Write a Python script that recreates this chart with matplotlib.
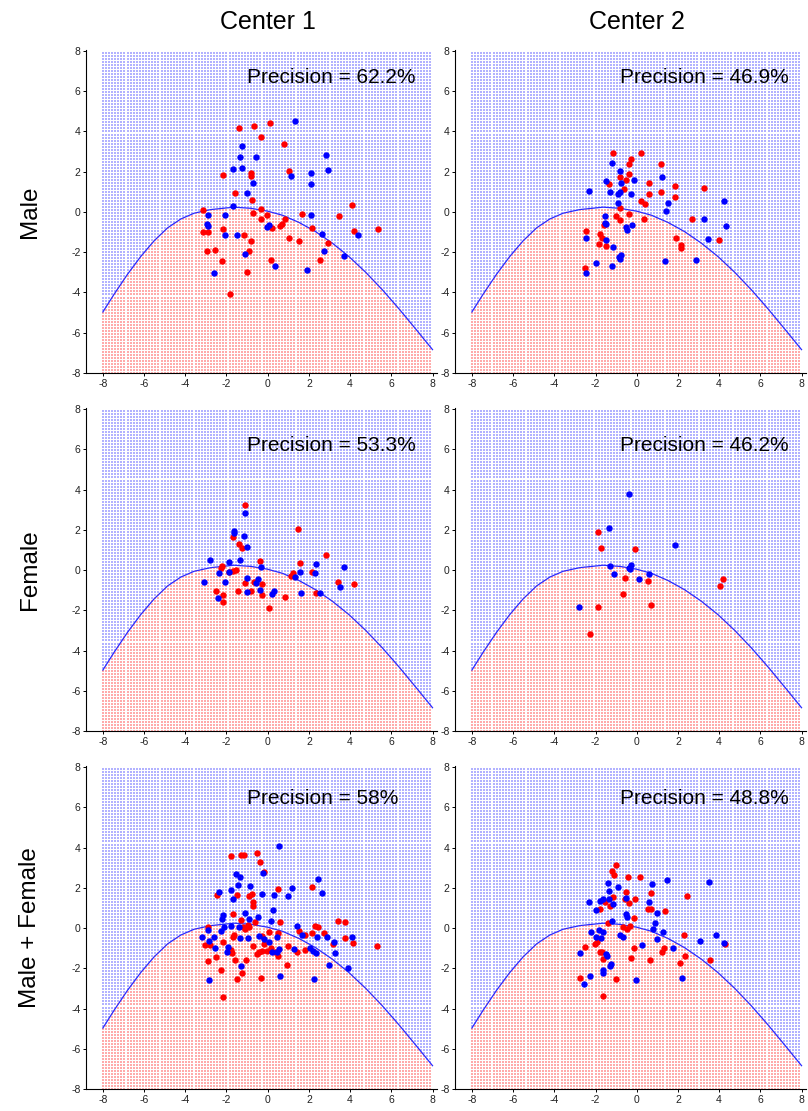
import numpy as np
import matplotlib
matplotlib.use('Agg')
import matplotlib.pyplot as plt

plt.rcParams['font.family'] = ['Liberation Sans', 'DejaVu Sans']
plt.rcParams['axes.unicode_minus'] = False

centers = ['Center 1', 'Center 2']
groups = ['Male', 'Female', 'Male + Female']
precision = [['62.2%', '46.9%'],
             ['53.3%', '46.2%'],
             ['58%', '48.8%']]

# decision boundary
boundary_x = [-8.0, -7.45, -6.8, -6.16, -5.51, -4.86, -4.22, -3.57, -2.76, -1.63,
              -0.8, 0.0, 0.71, 1.52, 2.33, 3.14, 3.95, 4.75, 5.56, 6.37, 7.18, 8.0]
boundary_y = [-4.97, -4.08, -3.09, -2.21, -1.43, -0.79, -0.35, -0.06, 0.12, 0.24,
              0.18, 0.04, -0.16, -0.52, -0.98, -1.55, -2.22, -2.99, -3.86, -4.81, -5.81, -6.84]

# ---- Center 1, Male
c1_male_red = [(-3.12, 0.08), (-3.12, -0.99), (-2.91, -0.99), (-2.96, -1.95), (-2.55, -1.90),
               (-2.18, 1.86), (-2.15, -0.87), (-2.23, -2.42), (-1.83, -4.07), (-1.58, 0.94),
               (-1.37, 4.16), (-1.13, -1.15), (-0.99, -3.0), (-0.89, -1.95), (-0.82, -1.45),
               (-0.82, 1.93), (-0.82, 1.77), (-0.76, 0.58), (-0.69, -0.05), (-0.66, 4.29),
               (-0.31, 3.71), (-0.32, 0.16), (-0.31, -0.36), (-0.02, -0.13), (0.10, 4.40),
               (0.18, -2.39), (0.23, -0.79), (0.60, -0.69), (0.68, -0.61), (0.81, 3.38),
               (0.84, -0.36), (1.03, 2.06), (1.03, -1.29), (1.52, -1.44), (1.68, -0.08),
               (2.17, -0.79), (2.54, -2.39), (2.91, -1.53), (3.47, -0.2), (4.10, 0.33),
               (4.19, -0.94), (5.37, -0.87)]
c1_male_blue = [(-2.88, -0.13), (-2.96, -0.59), (-2.88, -0.71), (-2.60, -3.02), (-2.07, -0.13),
                (-2.07, -1.15), (-1.66, 2.14), (-1.70, 0.28), (-1.50, -1.15), (-1.36, 2.72),
                (-1.26, 3.28), (-1.24, 2.18), (-1.08, -2.09), (-1.02, 0.94), (-0.73, 1.45),
                (-0.58, 2.72), (-0.02, -0.74), (0.05, -0.63), (0.36, -2.66), (1.13, 1.77),
                (1.34, 4.50), (1.92, -2.89), (2.08, 1.93), (2.08, 1.40), (2.08, -0.16),
                (2.63, -1.07), (2.73, -1.95), (2.81, 2.85), (2.91, 2.11), (3.70, -2.19),
                (4.36, -1.15)]

# ---- Center 2, Male
c2_male_red = [(-2.53, -2.80), (-2.45, -0.94), (-1.83, -1.57), (-1.77, -1.11), (-1.67, -1.27),
               (-1.60, -0.66), (-1.47, -1.68), (-1.34, 1.40), (-1.15, 2.92), (-0.99, -0.20),
               (-0.83, 1.73), (-0.83, 0.20), (-0.79, -0.41), (-0.62, 1.12), (-0.50, 1.57),
               (-0.37, 2.36), (-0.37, 1.90), (-0.37, -0.08), (-0.26, 2.64), (0.23, 2.92),
               (0.19, 0.53), (0.37, -0.33), (0.42, 0.41), (0.58, 1.45), (0.58, 0.91),
               (1.17, 2.36), (1.17, 0.99), (1.85, 0.74), (1.88, 1.29), (1.89, -1.29),
               (2.17, -1.65), (2.17, -1.78), (2.66, -0.36), (3.26, 1.20), (3.97, -1.37)]
c2_male_blue = [(-2.48, -3.05), (-2.45, -1.29), (-2.32, 1.04), (-1.96, -2.56), (-1.55, -0.21),
                (-1.55, -0.53), (-1.51, -1.40), (-1.47, 1.52), (-1.51, -0.58), (-1.31, 0.99),
                (-1.18, 2.44), (-1.18, -2.67), (-1.15, -1.76), (-0.91, 0.46), (-0.91, 0.91),
                (-0.83, 0.99), (-0.86, -2.23), (-0.79, -2.36), (-0.74, -2.14), (-0.79, 2.06),
                (-0.76, 1.45), (-0.50, -0.74), (-0.45, -0.91), (-0.26, 0.91), (-0.23, -0.66),
                (-0.11, 1.57), (1.23, 1.73), (1.36, -2.42), (1.44, 0.05), (1.52, 0.46),
                (2.90, -2.39), (3.27, -0.33), (3.48, -1.32), (4.24, 0.54), (4.32, -0.69)]

# ---- Center 1, Female
c1_female_red = [(-2.49, -1.04), (-2.29, 0.08), (-2.21, 0.20), (-2.18, -1.24), (-2.16, -1.61),
                 (-1.89, -0.08), (-1.68, 1.66), (-1.68, -0.03), (-1.56, 0.0), (-1.43, -1.04),
                 (-1.40, 1.28), (-1.24, 1.11), (-1.11, 3.23), (-1.11, -0.66), (-0.80, -1.04),
                 (-0.67, -0.61), (-0.35, 0.46), (-0.30, -1.24), (-0.27, -0.71), (0.04, -1.87),
                 (0.84, -1.33), (1.14, -0.30), (1.24, -0.13), (1.47, 2.04), (1.56, 0.36),
                 (2.16, -0.12), (2.33, -1.13), (2.85, 0.75), (3.41, -0.58), (4.19, -0.71)]
c1_female_blue = [(-3.10, -0.58), (-2.81, 0.50), (-2.38, -0.17), (-2.39, -1.37), (-2.05, -0.61),
                  (-1.89, 0.41), (-1.89, -0.12), (-1.65, 1.94), (-1.65, 1.82), (-1.32, 0.51),
                  (-1.16, 1.67), (-1.11, 2.82), (-1.00, 1.16), (-1.00, -0.41), (-1.00, -1.11),
                  (-0.59, -0.66), (-0.48, -0.46), (-0.35, -0.99), (-0.32, 0.17), (0.22, -1.21),
                  (0.33, -1.03), (1.34, -0.36), (1.56, -0.08), (1.63, -1.16), (2.28, -0.17),
                  (2.33, 0.28), (2.52, -1.16), (3.51, -0.83), (3.71, 0.15)]

# ---- Center 2, Female
c2_female_red = [(-2.28, -3.20), (-1.89, 1.90), (-1.89, -1.82), (-1.71, 1.08), (-0.66, -1.21),
                 (-0.57, -0.38), (-0.06, 1.03), (0.56, -0.53), (0.67, -1.74), (4.04, -0.80),
                 (4.19, -0.45)]
c2_female_blue = [(-2.81, -1.84), (-1.35, 2.07), (-1.31, 0.20), (-1.11, -0.20), (-0.36, 3.78),
                  (-0.35, 0.08), (-0.30, 0.25), (-0.33, 0.05), (0.12, -0.46), (0.62, -0.18),
                  (1.88, 1.24)]

# ---- Center 1, Male + Female
c1_all_red = [(-2.91, 0.03), (-3.04, -0.84), (-2.88, -1.65), (-2.80, -0.82), (-2.52, -1.45),
              (-2.47, 1.63), (-2.26, -2.11), (-2.18, -0.68), (-2.15, -3.43), (-1.79, 3.58),
              (-1.79, -1.07), (-1.75, -1.24), (-1.70, 0.69), (-1.70, -0.43), (-1.63, -0.33),
              (-1.58, -1.57), (-1.50, -2.55), (-1.49, 1.63), (-1.31, 3.62), (-1.28, 0.41),
              (-1.26, -2.22), (-1.18, 0.03), (-1.13, 3.62), (-1.10, -0.05), (-1.07, -1.57),
              (-0.94, 0.16), (-0.91, 0.03), (-0.89, 1.60), (-0.78, 1.71), (-0.73, 1.10),
              (-0.69, 1.27), (-0.69, -0.91), (-0.61, 0.28), (-0.50, 3.74), (-0.53, -1.29),
              (-0.42, -1.20), (-0.37, 3.28), (-0.32, -2.49), (-0.29, -1.12), (-0.26, -0.38),
              (-0.18, 2.78), (-0.18, -0.79), (-0.05, -1.12), (0.06, -0.18), (0.15, -0.99),
              (0.36, -1.17), (0.52, 1.96), (0.52, -0.25), (0.52, -1.37), (0.60, 0.28),
              (0.97, -0.91), (0.92, -1.86), (1.44, -1.17), (1.54, -0.13), (1.81, -0.35),
              (1.81, -1.07), (2.17, 2.06), (2.17, -0.25), (2.29, 0.08), (2.42, 0.07),
              (2.75, -0.26), (3.18, -0.79), (3.39, 0.36), (3.75, 0.28), (3.75, -0.49),
              (4.15, -0.76), (5.32, -0.91)]
c1_all_blue = [(-3.20, -0.43), (-2.88, -0.08), (-2.84, -0.63), (-2.83, -2.60), (-2.63, -0.43),
               (-2.55, -1.01), (-2.34, 1.80), (-2.28, -0.13), (-2.20, 0.44), (-2.18, 0.64),
               (-2.10, 0.03), (-1.99, -1.20), (-1.91, -0.92), (-1.79, 1.89), (-1.79, 0.08),
               (-1.70, 1.43), (-1.55, 2.67), (-1.42, 2.13), (-1.34, 2.55), (-1.34, -0.51),
               (-1.29, -1.89), (-1.37, 0.03), (-1.08, 0.74), (-0.97, -0.51), (-0.91, 0.44),
               (-0.86, 2.09), (-0.45, 0.56), (-0.40, -0.38), (-0.29, 1.71), (-0.24, 2.75),
               (-0.18, -0.54), (0.06, -0.71), (0.15, 0.36), (0.19, -1.20), (0.27, 0.91),
               (0.32, 1.63), (0.44, -0.46), (0.47, -1.20), (0.53, -1.04), (0.55, 4.10),
               (0.60, -2.39), (1.00, 1.57), (1.20, 1.98), (1.29, -1.04), (1.44, 0.08),
               (1.65, -0.35), (2.05, -1.01), (2.18, -1.12), (2.26, -2.55), (2.34, -1.24),
               (2.41, -0.46), (2.46, 2.42), (2.65, 1.76), (2.86, -0.46), (2.99, -1.83),
               (3.22, -0.68), (3.26, -1.24), (3.91, -1.98), (4.07, -0.43)]

# ---- Center 2, Male + Female
c2_all_red = [(-2.77, -2.49), (-2.53, -0.96), (-2.04, -0.79), (-1.91, -0.71), (-1.80, 0.97),
              (-1.80, -1.20), (-1.68, -1.20), (-1.64, -1.53), (-1.64, -3.38), (-1.55, 1.27),
              (-1.39, 0.23), (-1.31, 1.07), (-1.18, 2.83), (-1.12, 2.62), (-1.15, 1.52),
              (-0.99, 3.11), (-0.99, -2.55), (-0.66, 0.03), (-0.58, 1.43), (-0.50, 1.81),
              (-0.47, -0.05), (-0.40, 2.55), (-0.39, 1.22), (-0.34, 0.08), (-0.26, -1.50),
              (-0.15, -1.01), (-0.13, 0.48), (-0.06, 1.43), (0.15, 2.55), (0.55, 0.94),
              (0.63, -1.61), (0.68, 1.73), (0.68, 0.94), (1.25, -1.20), (1.33, -1.01),
              (1.39, 0.86), (2.12, -1.73), (2.28, -0.35), (2.33, -1.40), (2.45, 1.60),
              (3.55, -1.57), (4.28, -0.79)]
c2_all_blue = [(-2.74, -1.24), (-2.56, -2.77), (-2.33, 1.27), (-2.28, -2.39), (-2.20, -0.21),
               (-1.96, 0.91), (-1.96, -0.46), (-1.85, -0.08), (-1.77, 1.35), (-1.75, -0.51),
               (-1.64, 1.43), (-1.64, -0.18), (-1.64, -2.11), (-1.64, -2.22), (-1.47, -1.29),
               (-1.44, -1.37), (-1.39, 2.22), (-1.36, 1.85), (-1.34, 1.43), (-1.28, -1.89),
               (-1.23, -1.78), (-1.18, 0.36), (-1.15, 1.19), (-0.91, 2.06), (-0.79, -0.33),
               (-0.66, -0.46), (-0.50, 1.47), (-0.50, 0.69), (-0.47, 0.53), (-0.05, -2.57),
               (0.28, -0.82), (0.60, 1.27), (0.76, 2.21), (0.79, -0.05), (0.87, 0.25),
               (0.99, 0.77), (0.99, -0.54), (1.28, -0.18), (1.47, 2.37), (1.77, -0.99),
               (2.20, -2.49), (3.06, -0.66), (3.51, 2.31), (3.87, -0.33), (4.23, -0.74)]

panels = [[(c1_male_red, c1_male_blue), (c2_male_red, c2_male_blue)],
          [(c1_female_red, c1_female_blue), (c2_female_red, c2_female_blue)],
          [(c1_all_red, c1_all_blue), (c2_all_red, c2_all_blue)]]

fig = plt.figure(figsize=(8.08, 11.11), dpi=100)
lefts = [0.1064, 0.5631]
bottoms = [0.6643, 0.3420, 0.0198]
w, h = 0.434, 0.2907
text_x = [-1.02, -0.82]
text_y = [6.7, 6.2, 6.45]

# background grid of class-region dots
gx, gy = np.meshgrid(np.arange(-8, 8.001, 0.15), np.arange(-8, 8.001, 0.15))
gx, gy = gx.ravel(), gy.ravel()
above = gy > np.interp(gx, boundary_x, boundary_y)

for r in range(3):
    for c in range(2):
        ax = fig.add_axes([lefts[c], bottoms[r], w, h])
        ax.scatter(gx[above], gy[above], s=1.0, marker='s', color='blue',
                   alpha=0.3, linewidths=0, zorder=1)
        ax.scatter(gx[~above], gy[~above], s=1.0, marker='s', color='red',
                   alpha=0.33, linewidths=0, zorder=1)
        ax.plot(boundary_x, boundary_y, color='#2a2aff', lw=0.9, zorder=2)
        red, blue = panels[r][c]
        rx, ry = zip(*red)
        bx, by = zip(*blue)
        ax.plot(rx, ry, 'o', color='red', ms=4.6, mec='none', zorder=3)
        ax.plot(bx, by, 'o', color='blue', ms=4.6, mec='none', zorder=3)
        ax.text(text_x[c], text_y[r], 'Precision = ' + precision[r][c],
                fontsize=15, ha='left', va='center', zorder=4)
        ax.set_xlim(-8.82, 8.2)
        ax.set_ylim(-8, 8.05)
        ax.set_xticks(np.arange(-8, 9, 2))
        ax.set_yticks(np.arange(-8, 9, 2))
        ax.tick_params(direction='out', length=2.5, width=0.7, labelsize=7.5, pad=1.5,
                       labelcolor='#222222')
        for s in ['top', 'right']:
            ax.spines[s].set_visible(False)
        for s in ['left', 'bottom']:
            ax.spines[s].set_linewidth(0.8)

for c in range(2):
    x_mid = lefts[c] + w * (8.82 / 17.02)
    fig.text(x_mid, 0.980, centers[c], fontsize=18, ha='center', va='center')
for r in range(3):
    fig.text(0.037, bottoms[r] + h / 2, groups[r], fontsize=17.5, rotation=90,
             ha='center', va='center')

fig.savefig('out.png', dpi=100)
